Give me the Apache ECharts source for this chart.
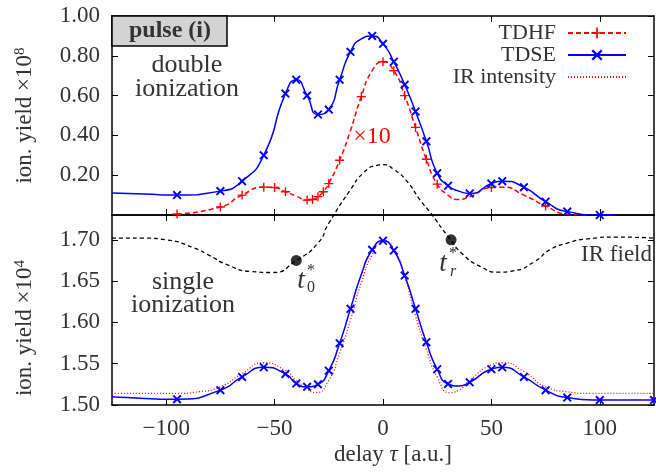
<!DOCTYPE html>
<html>
<head>
<meta charset="utf-8">
<script src="https://cdn.jsdelivr.net/npm/echarts@6/dist/echarts.min.js"></script>
<style>
  html, body { margin: 0; padding: 0; background: #fff; }
  #chart { width: 656px; height: 472px; }
</style>
</head>
<body>
<div id="chart"></div>
<script>
const xTicks = [-100, -50, 0, 50, 100]
const topTicks = [0.2, 0.4, 0.6, 0.8, 1.0]
const bottomTicks = [1.5, 1.55, 1.6, 1.65, 1.7]

// double ionization, TDHF (x10) -- points with markers
const tdhfTau = [-95, -75, -65, -55, -50, -45, -35, -32.5, -30, -27.5, -25, -20, -10, 0, 5, 10, 15, 20, 25, 50, 75]
const tdhfVal = [0.005, 0.04, 0.10, 0.14, 0.138, 0.117, 0.075, 0.078, 0.092, 0.117, 0.158, 0.275, 0.595, 0.77, 0.725, 0.60, 0.44, 0.28, 0.155, 0.138, 0.045]
// read along the dashed curve between markers
const tdhfTauExtra = [-40, -15, -5, 30, 34, 40, 55, 65, 85, 95]
const tdhfValExtra = [0.095, 0.425, 0.725, 0.10, 0.078, 0.092, 0.14, 0.10, 0.005, 0.0]

// double ionization, TDSE
const tdseTau = [-95, -75, -65, -55, -45, -40, -35, -30, -25, -20, -15, -5, 0, 5, 10, 15, 20, 25, 30, 40, 50, 55, 65, 75, 85, 100]
const tdseVal = [0.10, 0.12, 0.17, 0.30, 0.61, 0.68, 0.60, 0.505, 0.53, 0.68, 0.82, 0.90, 0.86, 0.77, 0.655, 0.52, 0.37, 0.21, 0.147, 0.108, 0.158, 0.17, 0.14, 0.067, 0.017, 0.0]
const tdseTauExtra = [-125, -110, -10, 35, 107]
const tdseValExtra = [0.11, 0.105, 0.885, 0.12, 0.0]

// single ionization, TDSE
const singleTau = [-95, -75, -65, -55, -45, -40, -35, -30, -25, -20, -15, -5, 0, 5, 10, 15, 20, 25, 30, 40, 50, 55, 65, 75, 85, 100, 125]
const singleVal = [1.507, 1.518, 1.534, 1.5457, 1.5376, 1.526, 1.522, 1.525, 1.5416, 1.5748, 1.6164, 1.6879, 1.6988, 1.687, 1.6567, 1.6164, 1.576, 1.5433, 1.5255, 1.5275, 1.5433, 1.5457, 1.534, 1.518, 1.509, 1.506, 1.506]
const singleTauExtra = [-125, -110, -10, 35, 112]
const singleValExtra = [1.510, 1.508, 1.658, 1.523, 1.506]

// IR intensity (scaled onto the single ionization axis)
const irTau = [-125, -95, -85, -75, -65, -55, -45, -40, -35, -31, -25, -20, -15, -10, -5, 0, 5, 10, 15, 20, 25, 31, 35, 40, 50, 55, 65, 75, 85, 95, 125]
const irVal = [1.514, 1.514, 1.516, 1.522, 1.538, 1.551, 1.5416, 1.5295, 1.519, 1.515, 1.530, 1.5627, 1.603, 1.648, 1.682, 1.699, 1.689, 1.6555, 1.608, 1.5675, 1.534, 1.515, 1.518, 1.530, 1.5485, 1.5513, 1.5404, 1.522, 1.516, 1.514, 1.514]

// IR field, drawn in lower panel units, runs up into the top panel
const fieldTau = [-125, -110, -100, -87, -80, -72, -61, -51, -40, -30, -25, -15, -9, -3, 0, 5, 11, 17, 22, 30, 37, 45, 53, 60, 70, 77, 85, 94, 108, 125]
const fieldVal = [1.702, 1.702, 1.700, 1.690, 1.681, 1.670, 1.6616, 1.6604, 1.675, 1.696, 1.72, 1.7606, 1.781, 1.790, 1.791, 1.785, 1.771, 1.7485, 1.7324, 1.704, 1.682, 1.6676, 1.6608, 1.6624, 1.6737, 1.688, 1.696, 1.701, 1.7033, 1.702]

// t0*, tr*
const dotTau = [-40, 31.4]
const dotVal = [1.675, 1.70]

const font = '"Liberation Serif", "DejaVu Serif", serif'
const crossSym = 'path://M0,1.5L1.5,0L10,8.5L8.5,10Z M8.5,0L10,1.5L1.5,10L0,8.5Z'
const plusSym = 'path://M4.25,0H5.75V4.25H10V5.75H5.75V10H4.25V5.75H0V4.25H4.25Z'
const smoothness = 0.6

function merge(tm, vm, te, ve) {
  let all = tm.map((t, i) => ({ value: [t, vm[i]] }))
    .concat(te.map((t, i) => ({ value: [t, ve[i]], symbol: 'none' })))
  return all.sort((a, b) => a.value[0] - b.value[0])
}
function pairs(t, v) { return t.map((x, i) => [x, v[i]]) }

const minus = v => (v < 0 ? '\u2212' + (-v) : String(v))

function xAx(gridIndex, position, labels) {
  return {
    type: 'value', gridIndex, position, min: -125, max: 125,
    axisLine: { show: true, onZero: false, lineStyle: { color: '#000', width: 1.5 } },
    axisTick: { show: true, inside: true, length: 6, customValues: xTicks, lineStyle: { color: '#000', width: 1 } },
    axisLabel: labels ? {
      show: true, customValues: xTicks, formatter: minus, fontSize: 23, color: '#333', fontFamily: font, margin: 12,
    } : { show: false },
    splitLine: { show: false },
  }
}
function yAx(gridIndex, position, min, max, ticks, labels, name, pad) {
  let ax = {
    type: 'value', gridIndex, position, min, max,
    axisLine: { show: true, onZero: false, lineStyle: { color: '#000', width: 1.5 } },
    axisTick: { show: true, inside: true, length: 6, customValues: ticks, lineStyle: { color: '#000', width: 1 } },
    axisLabel: labels ? {
      show: true, customValues: ticks, formatter: v => v.toFixed(2), fontSize: 23, color: '#333', fontFamily: font, margin: 12,
    } : { show: false },
    splitLine: { show: false },
  }
  if (name) {
    ax.name = name
    ax.nameLocation = 'middle'
    ax.nameGap = 76
    ax.nameTextStyle = {
      fontSize: 23, color: '#333', fontFamily: font, padding: pad,
      rich: { s: { fontSize: 15, verticalAlign: 'top', color: '#333', fontFamily: font } },
    }
  }
  return ax
}

function txt(text, x, y, size, opts) {
  return {
    type: 'text', x, y, z: 100,
    style: Object.assign({
      text, fontSize: size, fontFamily: font, fill: '#333',
      textAlign: 'center', textVerticalAlign: 'middle',
    }, opts || {}),
  }
}

let chart = echarts.init(document.getElementById('chart'))
chart.setOption({
  animation: false,
  backgroundColor: '#fff',
  textStyle: { fontFamily: font },
  grid: [
    { left: 112, right: 2, top: 16, height: 199 },
    { left: 112, right: 2, top: 215, height: 190 },
  ],
  xAxis: [
    xAx(0, 'bottom', false),
    xAx(0, 'top', false),
    Object.assign(xAx(1, 'bottom', true), {
      name: 'delay {i|\u03c4} [a.u.]', nameLocation: 'middle', nameGap: 38,
      nameTextStyle: {
        fontSize: 23, color: '#333', fontFamily: font, padding: [0, 0, 0, 20],
        rich: { i: { fontSize: 23, fontStyle: 'italic', color: '#333', fontFamily: font } },
      },
    }),
    xAx(1, 'top', false),
  ],
  yAxis: [
    yAx(0, 'left', 0, 1, topTicks, true, 'ion. yield \u00d710{s|8}', [0, 0, 0, 0]),
    yAx(0, 'right', 0, 1, topTicks, false),
    yAx(1, 'left', 1.5, 1.73, bottomTicks, true, 'ion. yield \u00d710{s|4}', [0, 36, 0, 0]),
    yAx(1, 'right', 1.5, 1.73, bottomTicks, false),
  ],
  legend: {
    data: ['TDHF', 'TDSE', { name: 'IR intensity', itemStyle: { opacity: 0 } }],
    orient: 'vertical', align: 'right', right: 29, top: 22, padding: 0, itemGap: 0,
    itemWidth: 58, itemHeight: 14, selectedMode: false,
    textStyle: { fontSize: 22, lineHeight: 22, color: '#333', fontFamily: font, padding: [0, 7, 0, 0] },
  },
  series: [
    {
      name: 'IR field', type: 'line', xAxisIndex: 2, yAxisIndex: 2, clip: false,
      data: pairs(fieldTau, fieldVal), smooth: smoothness, symbol: 'none',
      lineStyle: { color: '#000', width: 1.3, type: [4, 3] }, z: 2,
    },
    {
      name: 'TDHF', type: 'line', xAxisIndex: 0, yAxisIndex: 0,
      data: merge(tdhfTau, tdhfVal, tdhfTauExtra, tdhfValExtra), smooth: smoothness,
      symbol: plusSym, symbolSize: 9, itemStyle: { color: '#ff0000' },
      lineStyle: { color: '#ff0000', width: 1.5, type: [5, 3] }, z: 3,
    },
    {
      name: 'TDSE', type: 'line', xAxisIndex: 0, yAxisIndex: 0,
      data: merge(tdseTau, tdseVal, tdseTauExtra, tdseValExtra), smooth: smoothness,
      symbol: crossSym, symbolSize: 9, itemStyle: { color: '#0000ff' },
      lineStyle: { color: '#0000ff', width: 1.5 }, z: 4,
    },
    {
      name: 'IR intensity', type: 'line', xAxisIndex: 2, yAxisIndex: 2,
      data: pairs(irTau, irVal), smooth: smoothness, symbol: 'none',
      itemStyle: { color: '#ff0000' },
      lineStyle: { color: '#ff0000', width: 1.3, type: [1, 2] }, z: 3,
    },
    {
      name: 'TDSE', type: 'line', xAxisIndex: 2, yAxisIndex: 2,
      data: merge(singleTau, singleVal, singleTauExtra, singleValExtra), smooth: smoothness,
      symbol: crossSym, symbolSize: 9, itemStyle: { color: '#0000ff' },
      lineStyle: { color: '#0000ff', width: 1.5 }, z: 4,
    },
    {
      name: 'times', type: 'scatter', xAxisIndex: 2, yAxisIndex: 2,
      data: pairs(dotTau, dotVal), symbolSize: 11, itemStyle: { color: '#000' }, z: 6,
    },
  ],
  graphic: [
    { type: 'rect', z: 100, shape: { x: 112, y: 16, width: 115, height: 30 }, style: { fill: '#d3d3d3', stroke: '#000', lineWidth: 1.5 } },
    txt('pulse (i)', 170, 31, 24, { fontWeight: 'bold' }),
    txt('double\nionization', 187, 77, 26, { lineHeight: 24 }),
    txt('single\nionization', 183, 294, 26, { lineHeight: 23 }),
    txt('\u00d710', 372, 137, 24, { fill: '#ff0000' }),
    txt('IR field', 652, 255, 23, { textAlign: 'right' }),
    txt('t', 301, 281, 27, { fontStyle: 'italic' }),
    txt('*', 311, 271, 16),
    txt('0', 311, 288, 16),
    txt('t', 443, 264, 27, { fontStyle: 'italic' }),
    txt('*', 453, 254, 16),
    txt('r', 453, 272, 16, { fontStyle: 'italic' }),
  ],
})
</script>
</body>
</html>
